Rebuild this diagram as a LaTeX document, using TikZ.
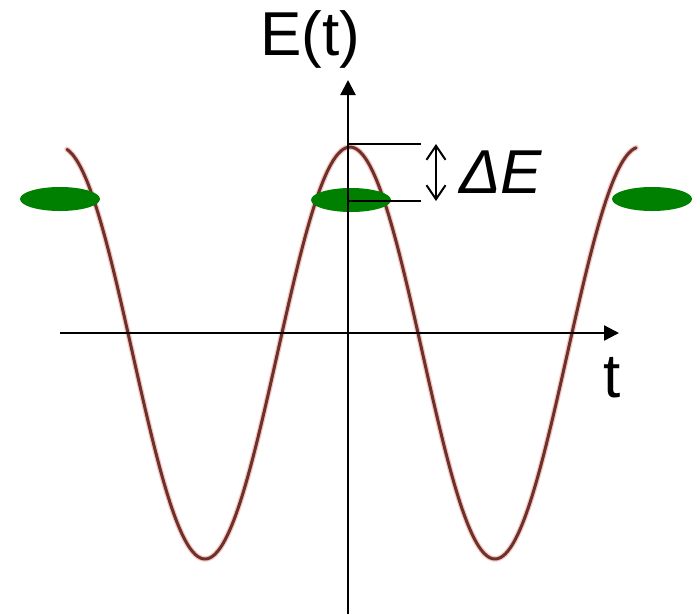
\documentclass[tikz,border=0pt]{standalone}
\usepackage{fontspec}
\setmainfont{Liberation Sans}
\usetikzlibrary{arrows.meta,shapes.geometric}
\definecolor{curvebrown}{RGB}{110,48,42}
\definecolor{glow}{RGB}{245,200,195}
\definecolor{dotgreen}{RGB}{0,128,0}
\tikzset{
  axisline/.style={line width=2.4pt,-{Triangle[length=15pt,width=15pt]}},
  refline/.style={line width=2pt},
  dblarrow/.style={line width=2pt,{Straight Barb[length=14pt,width=19pt,line width=2pt]}-{Straight Barb[length=14pt,width=19pt,line width=2pt]}},
  level/.style={ellipse,fill=dotgreen,draw=none,minimum width=80pt,minimum height=24pt,inner sep=0pt},
  lbl/.style={inner sep=0pt,font=\fontsize{62}{62}\selectfont},
}
\begin{document}
\begin{tikzpicture}[x=1pt,y=-1pt]
\useasboundingbox (0,0) rectangle (692,614);
% curve
\draw[glow,line width=5.5pt,line join=round,line cap=round] plot[domain=67:636,samples=240,smooth] (\x,{353-206*cos((\x-350)*1.241379)});
\draw[curvebrown,line width=3pt,line join=round,line cap=round] plot[domain=67:636,samples=240,smooth] (\x,{353-206*cos((\x-350)*1.241379)});
% levels
\node[level] (L1) at (60,199) {};
\node[level] (L2) at (351,200) {};
\node[level] (L3) at (652,199) {};
% axes
\coordinate (ybot) at (348,614);
\coordinate (ytop) at (348,80);
\coordinate (xleft) at (60,333);
\coordinate (xright) at (619,333);
\draw[axisline] (ybot) -- (ytop);
\draw[axisline] (xleft) -- (xright);
% delta E
\coordinate (peak) at (348,144);
\coordinate (peakR) at (421,144);
\coordinate (lev) at (348,201);
\coordinate (levR) at (421,201);
\coordinate (da) at (436,144);
\coordinate (db) at (436,201);
\draw[refline] (peak) -- (peakR);
\draw[refline] (lev) -- (levR);
\draw[dblarrow] (da) -- (db);
% labels
\node[lbl,anchor=base] (Et) at (310,55) {E(t)};
\node[lbl,anchor=base] (tl) at (612,397) {t};
\node[lbl,anchor=base west] (dE) at (459,193) {\itshape ΔE};
\end{tikzpicture}
\end{document}
